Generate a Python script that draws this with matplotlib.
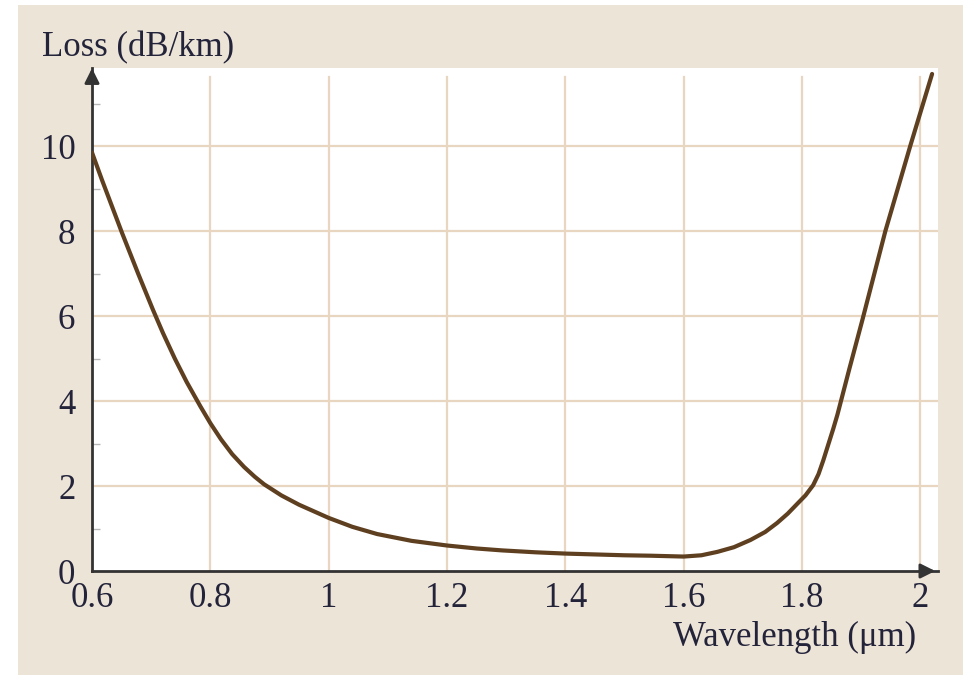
import matplotlib
matplotlib.use('Agg')
import matplotlib.pyplot as plt
from matplotlib.patches import Rectangle

## Dados da curva de perda da fibra (lidos ponto a ponto)
wavelength = [0.600, 0.617, 0.651, 0.678, 0.703, 0.720, 0.740, 0.760, 0.783, 0.800,
              0.818, 0.837, 0.857, 0.875, 0.891, 0.920, 0.950, 1.000, 1.040, 1.082,
              1.140, 1.200, 1.250, 1.293, 1.350, 1.400, 1.450, 1.500, 1.544, 1.600,
              1.630, 1.657, 1.685, 1.713, 1.738, 1.758, 1.776, 1.792, 1.806, 1.819,
              1.828, 1.836, 1.853, 1.860, 1.880, 1.902, 1.941, 1.983, 2.020]
loss = [9.85, 9.2, 7.95, 7.0, 6.15, 5.6, 5.0, 4.45, 3.88, 3.48,
        3.1, 2.75, 2.45, 2.22, 2.04, 1.78, 1.56, 1.25, 1.04, 0.87,
        0.71, 0.60, 0.53, 0.485, 0.44, 0.41, 0.39, 0.37, 0.36, 0.34,
        0.37, 0.45, 0.56, 0.73, 0.92, 1.13, 1.35, 1.58, 1.78, 2.02,
        2.28, 2.6, 3.35, 3.68, 4.75, 5.9, 8.0, 10.0, 11.7]

xticks = [0.6, 0.8, 1.0, 1.2, 1.4, 1.6, 1.8, 2.0]
xlabels = ['0.6', '0.8', '1', '1.2', '1.4', '1.6', '1.8', '2']
yticks = [0, 2, 4, 6, 8, 10]
yminor = [1, 3, 5, 7, 9, 11]

plt.rcParams['font.family'] = ['Liberation Serif', 'DejaVu Serif']
txt = '#23233a'
grade = '#e8d6c0'

fig = plt.figure(figsize=(9.66, 6.75), dpi=100, facecolor='white')
fig.patches.append(Rectangle((18/966, 0), 945/966, 670/675, transform=fig.transFigure,
                             facecolor='#ede4d8', edgecolor='none', zorder=-5))

ax = fig.add_axes([92/966, 104/675, 846/966, 503/675])
ax.set_facecolor('white')
ax.set_xlim(0.6, 2.03)
ax.set_ylim(0, 11.84)

## Grade
for xv in xticks[1:]:
    ax.plot([xv, xv], [0, 11.62], color=grade, lw=1.6, zorder=1)
for yv in yticks[1:]:
    ax.axhline(yv, color=grade, lw=1.6, zorder=1)

## Curva
ax.plot(wavelength, loss, color='#5e3f20', lw=3, solid_capstyle='round',
        solid_joinstyle='round', zorder=3)

## Eixos com setas
for s in ['top', 'right']:
    ax.spines[s].set_visible(False)
for s in ['left', 'bottom']:
    ax.spines[s].set_color('#333333')
    ax.spines[s].set_linewidth(2)
ax.annotate('', xy=(2.03, 0), xytext=(2.0, 0), xycoords='data',
            arrowprops=dict(arrowstyle='-|>', color='#333333', lw=2, mutation_scale=22),
            annotation_clip=False)
ax.annotate('', xy=(0.6, 11.9), xytext=(0.6, 11.4),
            arrowprops=dict(arrowstyle='-|>', color='#333333', lw=2, mutation_scale=22),
            annotation_clip=False)

ax.set_xticks(xticks)
ax.set_xticklabels(xlabels)
ax.set_yticks(yticks)
ax.set_yticks(yminor, minor=True)
ax.tick_params(axis='both', which='major', length=0, labelsize=25, labelcolor=txt)
ax.tick_params(axis='x', pad=8)
ax.tick_params(axis='y', pad=12)
ax.tick_params(axis='y', which='minor', direction='in', length=6, width=1, color='#b8b8b8')

fig.text(42/966, 1 - 48/675, 'Loss (dB/km)', fontsize=25, color=txt, va='center', ha='left')
fig.text(916/966, 1 - 637/675, 'Wavelength (μm)', fontsize=25, color=txt, va='center', ha='right')

fig.savefig('out.png', dpi=100, facecolor=fig.get_facecolor())
